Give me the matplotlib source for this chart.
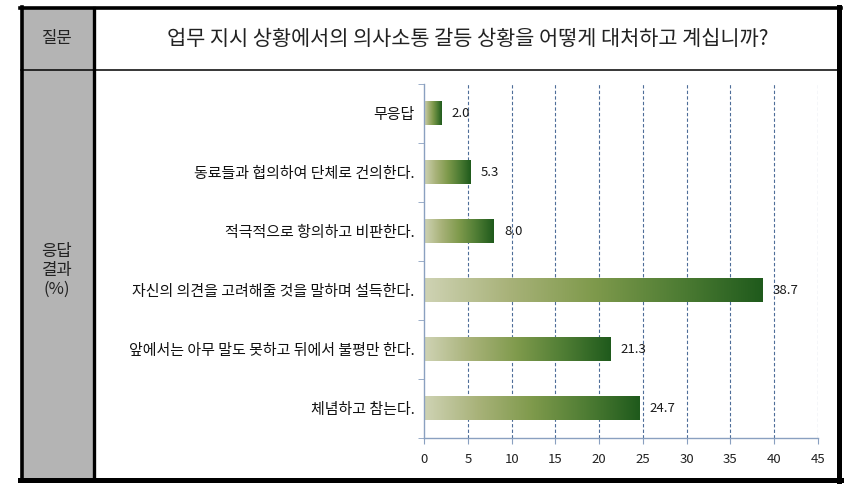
import numpy as np
import matplotlib
matplotlib.use("Agg")
import matplotlib.pyplot as plt
from matplotlib.colors import LinearSegmentedColormap
from matplotlib.patches import Rectangle
from matplotlib.lines import Line2D

plt.rcParams["font.family"] = ["Noto Sans CJK KR", "DejaVu Sans"]

# ── data ────────────────────────────────────────────────────────────────────
question = "업무 지시 상황에서의 의사소통 갈등 상황을 어떻게 대처하고 계십니까?"
categories = ["무응답",
              "동료들과 협의하여 단체로 건의한다.",
              "적극적으로 항의하고 비판한다.",
              "자신의 의견을 고려해줄 것을 말하며 설득한다.",
              "앞에서는 아무 말도 못하고 뒤에서 불평만 한다.",
              "체념하고 참는다."]
values = [2.0, 5.3, 8.0, 38.7, 21.3, 24.7]
xticks = [0, 5, 10, 15, 20, 25, 30, 35, 40, 45]

W, H = 851, 498
fig = plt.figure(figsize=(W / 100, H / 100), dpi=100)
fig.patch.set_facecolor("white")


def fx(px):
    return px / W


def fy(py):
    return 1 - py / H


# ── table frame ─────────────────────────────────────────────────────────────
fig.add_artist(Rectangle((fx(21), fy(480)), fx(73), fy(8) - fy(480),
                         transform=fig.transFigure, facecolor="#b4b4b4",
                         edgecolor="none", zorder=0))
# header divider (thin)
fig.add_artist(Line2D([fx(21), fx(840)], [fy(70.5), fy(70.5)],
                      transform=fig.transFigure, color="black", lw=1.1))
# column divider (thick)
fig.add_artist(Line2D([fx(93.5), fx(93.5)], [fy(8), fy(480)],
                      transform=fig.transFigure, color="black", lw=2.4))
# outer border
for (x0, y0, x1, y1, lw) in [(20, 8, 841, 8, 2.6), (20, 480, 841, 480, 3.6),
                             (21.5, 7, 21.5, 481, 2.6), (839, 7, 839, 481, 3.6)]:
    fig.add_artist(Line2D([fx(x0), fx(x1)], [fy(y0), fy(y1)],
                          transform=fig.transFigure, color="black", lw=lw,
                          solid_capstyle="projecting"))

fig.text(fx(57), fy(39), "질문", ha="center", va="center",
         fontsize=12, color="#222222")
fig.text(fx(468), fy(39), question, ha="center", va="center",
         fontsize=15, color="#222222")
fig.text(fx(57), fy(270), "응답\n결과\n(%)", ha="center", va="center",
         fontsize=12, color="#222222", linespacing=1.15)

# ── bar chart ───────────────────────────────────────────────────────────────
ax = fig.add_axes([fx(424.3), fy(437.7), fx(817.7) - fx(424.3),
                   fy(83.7) - fy(437.7)])
ax.set_facecolor("none")

grad = LinearSegmentedColormap.from_list(
    "bar", ["#cfd3b4", "#a8b279", "#7f9a4c", "#4f7d34", "#1f5a1c"])
ramp = np.linspace(0, 1, 256).reshape(1, -1)
bar_h = 0.4
for i, v in enumerate(values):
    ax.imshow(ramp, cmap=grad, aspect="auto", interpolation="bicubic",
              extent=(0, v, i + bar_h / 2, i - bar_h / 2), zorder=2)
    ax.annotate(f"{v:.1f}", xy=(v, i), xytext=(7, 0),
                textcoords="offset points", ha="left", va="center",
                fontsize=9.5, color="#1a1a1a", zorder=3)
ax.set_ylim(len(categories) - 0.5, -0.5)
ax.set_xlim(0, 45)

for t in xticks[1:]:
    ax.axvline(t, color="#4d6d98", lw=0.8, ls=(0, (3, 2)), zorder=1)

ax.set_xticks(xticks)
ax.set_xticklabels([str(t) for t in xticks], fontsize=9.5, color="#222222")
ax.set_yticks(range(len(categories)))
ax.set_yticklabels(categories, fontsize=10.8, color="#111111")
ax.set_yticks(np.arange(-0.5, len(categories)), minor=True)
ax.tick_params(axis="y", which="major", length=0, pad=7)
ax.tick_params(axis="y", which="minor", length=4, color="#8aa0c0",
               direction="out")
ax.tick_params(axis="x", length=4, color="#8aa0c0", direction="out", pad=7)
for s in ["top", "right"]:
    ax.spines[s].set_visible(False)
for s in ["left", "bottom"]:
    ax.spines[s].set_color("#8aa0c0")
    ax.spines[s].set_linewidth(1.0)

fig.savefig("out.png", dpi=100, facecolor="white")
